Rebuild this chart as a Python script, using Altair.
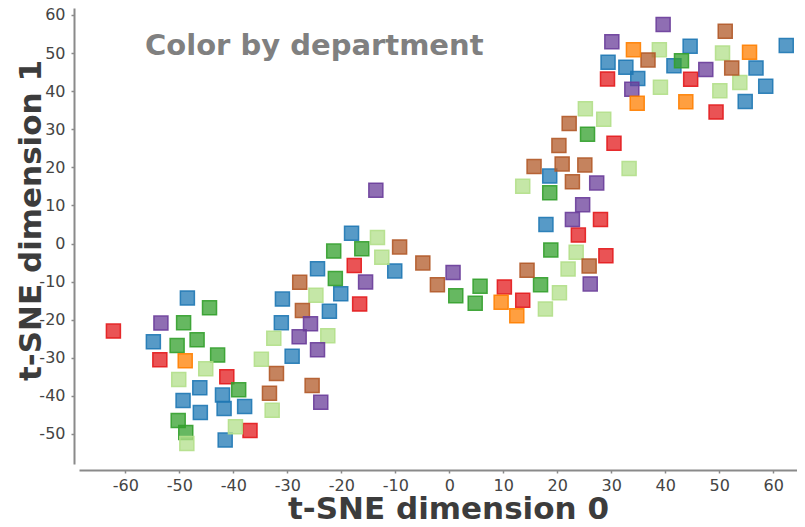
import altair as alt
import pandas as pd

departments = ["Red", "Blue", "Green", "LightGreen", "Brown", "Purple", "Orange"]
dept_colors = ["#e31a1c", "#1f78b4", "#33a02c", "#b2df8a", "#b15928", "#6a3d9a", "#ff7f00"]

red_x = [-62.2, -53.6, -41.2, -36.9, -17.6, -16.6, 10.2, 13.6, 23.9, 28.0, 29.0, 30.5, 29.3, 44.7, 49.4]
red_y = [-23.0, -30.5, -35.0, -49.1, -5.8, -15.9, -11.4, -14.9, 2.2, 6.3, -3.2, 26.3, 43.2, 43.1, 34.5]

blue_x = [-48.5, -54.8, -46.2, -42.0, -49.3, -46.1, -41.7, -37.9, -41.5, -30.9, -31.1, -29.1, -24.4, -20.1,
          -22.2, -18.1, -10.1, 18.6, 17.9, 44.6, 62.4, 29.4, 32.7, 41.6, 56.8, 34.9, 58.6, 54.8]
blue_y = [-14.3, -25.8, -37.9, -39.8, -41.2, -44.4, -43.3, -42.8, -51.6, -14.6, -20.8, -29.6, -6.6, -13.2,
          -17.8, 2.7, -7.2, 17.7, 5.0, 51.8, 52.0, 47.6, 46.3, 46.7, 46.1, 43.3, 41.3, 37.3]

green_x = [-44.4, -49.2, -50.4, -46.7, -42.9, -39.0, -50.2, -48.8, -21.4, -16.2, -21.1, 5.7, 1.2, 4.8,
           25.6, 18.6, 18.8, 16.9, 43.0]
green_y = [-16.9, -20.8, -26.8, -25.3, -29.3, -38.4, -46.5, -49.6, -2.0, -1.4, -9.2, -11.2, -13.7, -15.7,
           28.7, 13.3, -1.7, -10.8, 48.0]

lightgreen_x = [-45.1, -50.1, -48.6, -39.6, -34.8, -32.8, -32.5, -13.3, -12.5, -24.7, -22.5, 25.2, 28.6,
                33.3, 13.6, 23.5, 22.0, 20.4, 17.8, 38.9, 50.6, 53.8, 39.1, 50.1]
lightgreen_y = [-32.9, -35.7, -52.5, -48.1, -30.4, -43.8, -24.9, 1.6, -3.6, -13.6, -24.2, 35.4, 32.6,
                19.7, 15.0, -2.3, -6.7, -12.9, -17.2, 50.9, 50.0, 42.3, 41.0, 40.1]

brown_x = [-33.3, -32.0, -25.4, -27.7, -27.2, -9.2, -4.9, -2.2, 22.2, 20.3, 15.7, 20.9, 25.1, 22.8,
           14.4, 25.9, 51.1, 36.8, 52.3]
brown_y = [-39.3, -34.1, -37.3, -10.2, -17.6, -0.9, -5.1, -10.8, 31.5, 25.7, 20.2, 20.9, 20.6, 16.2,
           -7.0, -5.9, 55.7, 48.2, 46.1]

purple_x = [-53.4, -13.6, 0.7, -15.5, -25.7, -27.8, -24.4, -23.8, 27.3, 24.7, 22.8, 26.1, 39.6, 30.1, 47.5, 33.8]
purple_y = [-20.9, 14.0, -7.6, -10.1, -21.1, -24.5, -27.9, -41.7, 15.9, 10.2, 6.3, -10.6, 57.5, 53.0, 45.7, 40.5]

orange_x = [-48.9, 9.6, 12.5, 34.8, 34.1, 55.6, 43.8]
orange_y = [-30.8, -15.4, -19.0, 36.8, 50.9, 50.2, 37.2]

x_ticks = [-60, -50, -40, -30, -20, -10, 0, 10, 20, 30, 40, 50, 60]
y_ticks = [-50, -40, -30, -20, -10, 0, 10, 20, 30, 40, 50, 60]

title_text = "Color by department"
x_title = "t-SNE dimension 0"
y_title = "t-SNE dimension 1"

groups = [
    ("Red", red_x, red_y), ("Blue", blue_x, blue_y), ("Green", green_x, green_y),
    ("LightGreen", lightgreen_x, lightgreen_y), ("Brown", brown_x, brown_y),
    ("Purple", purple_x, purple_y), ("Orange", orange_x, orange_y),
]
rows = []
for name, xs, ys in groups:
    for a, b in zip(xs, ys):
        rows.append({"x": a, "y": b, "dept": name})
df = pd.DataFrame(rows)

cscale = alt.Scale(domain=departments, range=dept_colors)

points = alt.Chart(df).mark_square(
    size=196, filled=True, fillOpacity=0.75, strokeWidth=1.5, strokeOpacity=0.9
).encode(
    x=alt.X("x:Q", scale=alt.Scale(domain=[-68.57, 64.39], nice=False, zero=False),
            axis=alt.Axis(values=x_ticks, title=x_title, offset=6, titleX=369, titleY=48.5,
                          titleAlign="center", titleBaseline="alphabetic",
                          labelPadding=4, labelExpr="'' + datum.value")),
    y=alt.Y("y:Q", scale=alt.Scale(domain=[-57.89, 61.83], nice=False, zero=False),
            axis=alt.Axis(values=y_ticks, title=y_title, offset=5, titleX=-34, titleY=212,
                          titleAngle=270, titleAlign="center", titleBaseline="alphabetic",
                          labelPadding=6, labelExpr="'' + datum.value")),
    color=alt.Color("dept:N", scale=cscale, legend=None),
    stroke=alt.Stroke("dept:N", scale=cscale, legend=None),
)

title_df = pd.DataFrame({"t": [title_text]})
title_mark = alt.Chart(title_df).mark_text(
    align="left", baseline="alphabetic", fontSize=29, fontWeight="bold",
    color="#808080", font="DejaVu Sans"
).encode(text="t:N", x=alt.value(66), y=alt.value(47))

chart = alt.layer(points, title_mark).properties(
    width=718, height=456,
    autosize=alt.AutoSizeParams(type="none"),
    padding={"left": 71, "top": 0, "right": 0, "bottom": 55},
).configure_view(stroke=None).configure_axis(
    grid=False, domainColor="#8a8a8a", domainWidth=2, tickColor="#8a8a8a", tickSize=3,
    tickWidth=1.5, labelFont="DejaVu Sans", labelFontSize=16, labelColor="#444444",
    titleFont="DejaVu Sans", titleFontSize=31, titleFontWeight="bold", titleColor="#3c3c3c",
)

chart.save("out.html", embed_options={"renderer": "svg", "actions": False})
